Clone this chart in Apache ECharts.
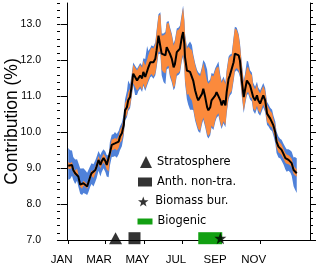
<!DOCTYPE html>
<html><head><meta charset="utf-8">
<script src="https://cdn.jsdelivr.net/npm/echarts@6/dist/echarts.min.js"></script>
<style>html,body{margin:0;padding:0;background:#fff}#c{width:320px;height:266px}</style>
</head><body><div id="c"></div>
<script>
// day of year for each sample
const days = [1,4,7,9,12,15,17,20,23,25, 28,31,33,36,38,41,44,46,49,52, 54,57,60,62,65,67,70,73,75,78,
 81,83,86,89,91,94,96,99,102,104, 107,110,112,115,118,120,123,126,128,131, 133,136,139,141,144,147,149,152,155,157,
 160,162,165,168,170,173,176,178,181,183, 185,186,189,191,194,197,199,202,205,207, 210,213,215,218,221,223,226,228,231,234,
 236,239,242,244,247,250,252,255,257,260, 263,265,268,271,273,276,279,281,284,286, 289,292,294,297,300,302,305,308,310,313,
 316,318,321,324,326,329,331,334,337,339, 342,345,347,350,353,355,358,360,363];
// mean contribution (%)
const meanVals = [9.07,9.05,9.09,8.95,8.86,8.91,8.77,8.54,8.49,8.58, 8.54,8.49,8.60,8.77,8.86,8.81,8.95,9.05,9.23,9.09,
 9.19,9.28,9.19,9.09,9.05,9.42,9.65,9.65,9.69,9.65, 9.74,9.88,9.97,10.20,10.61,10.70,10.89,10.98,11.35,11.63,
 11.54,11.44,11.50,11.58,11.50,11.68,11.54,11.70,11.81,11.95, 12.00,11.95,12.05,12.28,12.69,12.74,12.19,12.15,12.14,12.37,
 12.40,12.19,12.05,11.81,11.90,12.23,12.28,12.33,12.65,12.79, 12.46,12.09,11.72,11.77,11.68,11.63,11.44,11.17,10.98,10.89,
 10.84,11.07,11.21,10.98,10.70,10.61,10.70,10.89,10.84,11.03, 11.12,11.17,10.89,10.75,10.89,10.75,11.12,11.49,11.58,11.63,
 11.95,12.19,12.23,12.14,12.00,11.44,10.98,11.17,11.44,11.47, 11.31,11.26,10.98,10.89,11.03,10.89,10.80,10.94,11.03,10.89,
 10.52,10.47,10.38,10.33,10.19,10.00,9.74,9.60,9.55,9.51, 9.40,9.28,9.25,9.23,9.19,9.14,8.95,8.91,8.86];
// spread of orange range above / below mean
const orangeUp = [.10,.09,.08,.08,.07,.08,.07,.07,.06,.07, .07,.06,.08,.07,.08,.09,.10,.10,.11,.10,
 .11,.12,.13,.14,.15,.14,.15,.16,.15,.16, .16,.18,.18,.20,.20,.22,.22,.24,.25,.25,
 .26,.28,.28,.30,.30,.32,.32,.33,.34,.35, .36,.38,.40,.50,.55,.55,.50,.55,.60,.65,
 .65,.70,.65,.60,.62,.60,.58,.58,.60,.68, .62,.60,.60,.62,.65,.65,.68,.70,.70,.72,
 .72,.70,.72,.70,.72,.74,.72,.70,.72,.70, .68,.66,.64,.62,.60,.58,.56,.55,.52,.50,
 .65,.70,.62,.55,.44,.42,.40,.38,.36,.35, .34,.33,.32,.30,.30,.28,.28,.27,.26,.26,
 .24,.22,.21,.20,.19,.18,.17,.16,.15,.15, .14,.14,.13,.13,.12,.12,.12,.11,.10];
const orangeDn = [.08,.08,.07,.07,.08,.06,.07,.06,.06,.07, .06,.06,.07,.07,.08,.08,.09,.09,.10,.10,
 .11,.12,.12,.13,.14,.15,.15,.14,.15,.16, .17,.18,.20,.20,.22,.22,.24,.25,.25,.26,
 .28,.28,.30,.30,.32,.32,.33,.34,.35,.36, .38,.40,.40,.42,.45,.50,.45,.48,.50,.55,
 .55,.58,.60,.58,.60,.60,.62,.62,.60,.62, .62,.65,.68,.70,.72,.75,.75,.78,.78,.80,
 .80,.78,.80,.78,.75,.72,.72,.70,.72,.68, .66,.64,.62,.60,.58,.55,.54,.52,.50,.48,
 .46,.45,.44,.42,.40,.38,.38,.36,.35,.34, .33,.32,.32,.30,.29,.28,.27,.26,.26,.25,
 .24,.22,.21,.20,.19,.18,.17,.16,.15,.15, .14,.13,.13,.12,.12,.12,.11,.11,.10];
// spread of blue range above / below mean
const blueUp = [.49,.45,.40,.36,.38,.34,.38,.45,.50,.42, .40,.38,.35,.30,.28,.30,.27,.27,.25,.28,
 .26,.25,.27,.28,.30,.30,.28,.30,.32,.30, .30,.28,.30,.30,.30,.45,.55,.35,.32,.31,
 .31,.33,.33,.35,.36,.38,.50,.70,.45,.40, .42,.44,.46,.56,.60,.60,.56,.60,.66,.70,
 .70,.75,.70,.66,.68,.66,.64,.64,.66,.74, .68,.66,.66,.68,.85,.80,.74,.76,.76,.78,
 .78,.76,.80,.95,1.05,.80,.78,.76,.78,.76, .74,.80,.70,.68,.66,.64,.62,.61,.58,.56,
 .70,.75,.68,.60,.50,.48,.46,.44,.55,.50, .42,.40,.40,.38,.38,.36,.36,.35,.34,.34,
 .32,.32,.30,.30,.28,.30,.28,.28,.26,.28, .28,.30,.28,.30,.30,.32,.35,.40,.42];
const blueDn = [.39,.35,.30,.28,.30,.26,.28,.25,.24,.27, .25,.24,.27,.28,.30,.32,.33,.33,.30,.32,
 .30,.28,.30,.32,.30,.35,.34,.33,.35,.36, .35,.38,.36,.30,.28,.28,.30,.31,.31,.32,
 .50,.40,.36,.36,.38,.38,.39,.40,.41,.42, .44,.46,.46,.48,.51,.56,.60,.75,.80,.62,
 .61,.64,.66,.64,.66,.66,.68,.68,.66,.68, .68,.72,.80,1.0,1.05,1.0,.82,.84,.84,.86,
 .86,.84,.86,.84,.81,.78,.78,.76,.78,.74, .72,.70,.68,.66,.64,.61,.60,.58,.56,.54,
 .52,.51,.50,.48,.46,.44,.44,.42,.41,.40, .40,.40,.38,.38,.36,.36,.34,.34,.33,.33,
 .32,.30,.30,.30,.28,.30,.32,.30,.28,.30, .30,.32,.35,.30,.32,.35,.45,.50,.55];

// marker events along the bottom
const stratoDay = [76];
const anthDay = [106];
const biomassDay = [242];
const biogenicRange = [207, 245];
const markerLevel = 7.05;

const monthTicks = [1, 60, 121, 182, 244, 305];
const monthLabels = ['JAN', 'MAR', 'MAY', 'JUL', 'SEP', 'NOV'];
const yMajor = [7, 8, 9, 10, 11, 12, 13];
const yMinor = [];
for (let v = 70; v <= 136; v += 2) yMinor.push(v / 10);

const blueBand = days.map((d, i) => [d, meanVals[i] - blueDn[i], meanVals[i] + blueUp[i]]);
const orangeBand = days.map((d, i) => [d, meanVals[i] - orangeDn[i], meanVals[i] + orangeUp[i]]);
const meanData = days.map((d, i) => [d, meanVals[i]]);

const BLUE = '#4f81d9', ORANGE = '#fb8a3c', GREEN = '#12a012';
const STAR = 'path://M0,-10 L2.35,-3.24 L9.51,-3.09 L3.8,1.24 L5.88,8.09 L0,4 L-5.88,8.09 L-3.8,1.24 L-9.51,-3.09 L-2.35,-3.24 Z';
const axisFont = 'Liberation Sans, Arial, sans-serif';
const legFont = 'DejaVu Sans, sans-serif';

function bandSeries(band, color, z) {
  return {
    type: 'custom', silent: true, z: z, data: band,
    encode: { x: 0, y: [1, 2] },
    renderItem: (params, api) => {
      if (params.dataIndex !== 0) return null;
      const top = band.map(p => api.coord([p[0], p[2]]));
      const bot = band.map(p => api.coord([p[0], p[1]])).reverse();
      return { type: 'polygon', shape: { points: top.concat(bot) }, style: { fill: color } };
    }
  };
}

function yAx(pos, ticks, len, labels) {
  return {
    type: 'value', position: pos, min: 7, max: 13.6,
    axisLine: { show: labels !== null, lineStyle: { color: '#000', width: 1 } },
    splitLine: { show: false },
    axisTick: { show: true, inside: false, length: len, customValues: ticks, lineStyle: { color: '#000', width: 1 } },
    axisLabel: labels ? { show: true, customValues: yMajor, margin: 19, color: '#000', fontSize: 10.5, fontFamily: axisFont,
      formatter: v => Number(v).toFixed(1) } : { show: false },
    name: labels && pos === 'left' ? 'Contribution (%)' : '',
    nameLocation: 'middle', nameGap: 39, nameMoveOverlap: false,
    nameTextStyle: { color: '#000', fontSize: 17.5, fontFamily: axisFont }
  };
}

function leg(name, icon, left, top, w, h, keep) {
  return { show: true, data: [{ name: name, icon: icon }], left: left, top: top, padding: 0, orient: 'vertical',
    itemWidth: w, itemHeight: h, symbolKeepAspect: keep, selectedMode: false,
    textStyle: { color: '#000', fontSize: 11.4, fontFamily: legFont } };
}

const chart = echarts.init(document.getElementById('c'), null, { renderer: 'canvas' });
chart.setOption({
  animation: false,
  backgroundColor: '#fff',
  grid: { left: 60, right: 10, top: 3, bottom: 26, containLabel: false, outerBoundsMode: 'none' },
  xAxis: {
    type: 'value', min: -12, max: 384,
    axisLine: { show: true, onZero: false, lineStyle: { color: '#000', width: 1 } },
    splitLine: { show: false },
    axisTick: { show: true, length: 4, customValues: monthTicks, lineStyle: { color: '#000' } },
    axisLabel: { show: true, customValues: monthTicks, margin: 14, color: '#000', fontSize: 11.5, fontFamily: axisFont,
      padding: [0, 13, 0, 0],
      formatter: v => monthLabels[monthTicks.indexOf(Math.round(v))] || '' }
  },
  yAxis: [
    yAx('left', yMajor, 7, true),
    yAx('left', yMinor, 3, null),
    yAx('right', yMajor, 6, false),
    yAx('right', yMinor, 3, null)
  ],
  legend: [
    leg('Stratosphere', 'triangle', 140, 156, 12, 12, true),
    leg('Anth. non-tra.', 'rect', 138, 176.5, 14, 9, true),
    leg('Biomass bur.', STAR, 138, 196, 14, 10, true),
    leg('Biogenic', 'rect', 137.5, 216, 15, 6, false)
  ],
  series: [
    bandSeries(blueBand, BLUE, 1),
    bandSeries(orangeBand, ORANGE, 2),
    { type: 'line', data: meanData, symbol: 'none', lineStyle: { color: '#000', width: 2 }, silent: true, z: 3 },
    { name: 'Stratosphere', type: 'scatter', symbol: 'triangle', symbolSize: [13, 12], clip: false,
      data: stratoDay.map(d => [d, markerLevel]), itemStyle: { color: '#000' }, z: 5 },
    { name: 'Anth. non-tra.', type: 'scatter', symbol: 'rect', symbolSize: 12, clip: false,
      data: anthDay.map(d => [d, markerLevel]), itemStyle: { color: '#000' }, z: 5 },
    { name: 'Biogenic', type: 'custom', clip: false, z: 4,
      data: [[biogenicRange[0], biogenicRange[1], markerLevel]],
      encode: { x: [0, 1], y: 2 },
      itemStyle: { color: GREEN },
      renderItem: (params, api) => {
        const p0 = api.coord([api.value(0), api.value(2)]);
        const p1 = api.coord([api.value(1), api.value(2)]);
        return { type: 'rect', shape: { x: p0[0], y: p0[1] - 6, width: p1[0] - p0[0], height: 12 }, style: { fill: GREEN } };
      } },
    { name: 'Biomass bur.', type: 'scatter', symbol: STAR, symbolSize: 12, clip: false,
      data: biomassDay.map(d => [d, markerLevel]), itemStyle: { color: '#000' }, z: 6 }
  ]
});
</script>
</body></html>
